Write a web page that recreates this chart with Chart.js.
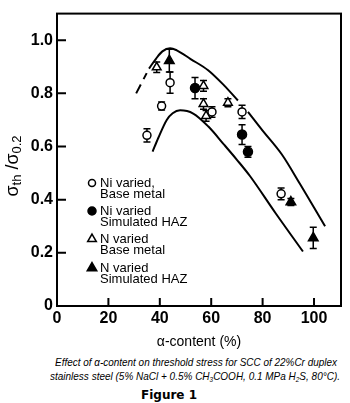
<!DOCTYPE html>
<html><head><meta charset="utf-8">
<script src="https://cdn.jsdelivr.net/npm/chart.js@4.4.0/dist/chart.umd.min.js"></script>
<style>
html,body{margin:0;padding:0;background:#fff;width:350px;height:403px;overflow:hidden}
#wrap{position:absolute;left:0;top:0;width:350px;height:355px}
.cap{position:absolute;font-family:"Liberation Sans",Arial,sans-serif;font-style:italic;font-size:11px;line-height:13px;color:#000;white-space:nowrap;transform-origin:0 0}
.cap sub{font-size:7px;vertical-align:-2px;line-height:0}
.fig{position:absolute;left:0;width:338px;text-align:center;font-family:"DejaVu Sans",sans-serif;font-weight:bold;font-size:12px;line-height:14px;color:#000}
</style>
</head><body>
<div id="wrap"><canvas id="c" width="350" height="355"></canvas></div>
<div class="cap" id="cap1" data-l="55" data-w="282" style="top:356px">Effect of α-content on threshold stress for SCC of 22%Cr duplex</div>
<div class="cap" id="cap2" data-l="50" data-w="290" style="top:370px">stainless steel (5% NaCl + 0.5% CH<sub>3</sub>COOH, 0.1 MPa H<sub>2</sub>S, 80°C).</div>
<div class="fig" style="top:388px">Figure 1</div>
<script>
// ---- tick labels ----
const xTicks = [0, 20, 40, 60, 80, 100];
const yTicks = [0, 0.2, 0.4, 0.6, 0.8, 1.0];

// ---- series: Ni varied, Base metal (open circles) ----
const niBaseX   = [35, 40.7, 44, 60.3, 72, 87.2];
const niBaseY   = [0.642, 0.752, 0.84, 0.73, 0.73, 0.422];
const niBaseErr = [0.025, 0.015, 0.04, 0.02, 0.025, 0.022];

// ---- Ni varied, Simulated HAZ (filled circles) ----
const niHazX   = [53.7, 72, 74.3];
const niHazY   = [0.82, 0.645, 0.58];
const niHazErr = [0.04, 0.037, 0.02];

// ---- N varied, Base metal (open triangles) ----
const nBaseX   = [38.8, 57, 57, 58, 66.5];
const nBaseY   = [0.898, 0.828, 0.76, 0.715, 0.765];
const nBaseErr = [0.02, 0.02, 0.02, 0.02, 0.015];

// ---- N varied, Simulated HAZ (filled triangles) ----
const nHazX   = [43.7, 91, 99.7];
const nHazY   = [0.923, 0.391, 0.256];
const nHazErr = [0.043, 0.013, 0.04];

// ---- band curves ----
const upperDashX = [30.8, 34.9];
const upperDashY = [0.80, 0.876];
const upperAX = [35.8, 38.5, 41, 44, 46.6, 52, 58.8, 65, 70.4];
const upperAY = [0.893, 0.93, 0.958, 0.97, 0.962, 0.929, 0.887, 0.83, 0.773];
const upperBX = [74.3, 80, 87.5, 94.5, 104.3];
const upperBY = [0.73, 0.66, 0.57, 0.46, 0.30];
const lowerX = [37.2, 39.4, 42.7, 45, 47.9, 53, 58.9, 65, 70, 75, 85, 95.7];
const lowerY = [0.581, 0.632, 0.70, 0.725, 0.736, 0.724, 0.675, 0.607, 0.55, 0.49, 0.35, 0.205];

// fit caption lines to their widths
document.querySelectorAll('.cap').forEach(el => {
  const w = el.getBoundingClientRect().width;
  el.style.left = el.dataset.l + 'px';
  el.style.transform = 'scaleX(' + (parseFloat(el.dataset.w) / w) + ')';
});

const pts = (xs, ys) => xs.map((x, i) => ({x: x, y: ys[i]}));

function pointSet(xs, ys, errs, style, filled, r) {
  return {
    data: pts(xs, ys), errY: errs, showLine: false,
    pointStyle: style, pointRadius: r, pointHoverRadius: r,
    pointBackgroundColor: filled ? '#000' : '#fff',
    pointBorderColor: '#000', pointBorderWidth: 1.5
  };
}
function curveSet(xs, ys, dash) {
  return {
    data: pts(xs, ys), showLine: true, pointRadius: 0, pointHoverRadius: 0,
    borderColor: '#000', borderWidth: 2, borderDash: dash || [],
    cubicInterpolationMode: 'monotone', fill: false, borderCapStyle: 'butt'
  };
}

const FONT = '"Liberation Sans", Arial, sans-serif';

const errorBars = {
  id: 'errorBars',
  beforeDatasetsDraw(chart) {
    const ctx = chart.ctx, xs = chart.scales.x, ys = chart.scales.y;
    ctx.save();
    ctx.strokeStyle = '#000'; ctx.lineWidth = 1.5;
    chart.data.datasets.forEach(ds => {
      if (!ds.errY) return;
      ds.data.forEach((p, i) => {
        const e = ds.errY[i];
        const px = xs.getPixelForValue(p.x);
        const y1 = ys.getPixelForValue(p.y + e), y2 = ys.getPixelForValue(p.y - e);
        ctx.beginPath();
        ctx.moveTo(px, y1); ctx.lineTo(px, y2);
        ctx.moveTo(px - 3.5, y1); ctx.lineTo(px + 3.5, y1);
        ctx.moveTo(px - 3.5, y2); ctx.lineTo(px + 3.5, y2);
        ctx.stroke();
      });
    });
    ctx.restore();
  }
};

const frame = {
  id: 'frame',
  afterDraw(chart) {
    const ctx = chart.ctx, a = chart.chartArea, xs = chart.scales.x, ys = chart.scales.y;
    ctx.save();
    ctx.strokeStyle = '#000'; ctx.lineWidth = 2;
    ctx.strokeRect(a.left, a.top, a.right - a.left, a.bottom - a.top);
    ctx.beginPath();
    xTicks.forEach(v => { if (v === 0) return; const p = xs.getPixelForValue(v); ctx.moveTo(p, a.bottom); ctx.lineTo(p, a.bottom - 8); });
    yTicks.forEach(v => { if (v === 0) return; const p = ys.getPixelForValue(v); ctx.moveTo(a.left, p); ctx.lineTo(a.left + 9, p); });
    ctx.stroke();

    // legend
    const entries = [
      {style: 'circle', fill: '#fff', r: 3.5, lines: ['Ni varied,', 'Base metal'], y: 183},
      {style: 'circle', fill: '#000', r: 4, lines: ['Ni varied', 'Simulated HAZ'], y: 211},
      {style: 'triangle', fill: '#fff', r: 5, lines: ['N varied', 'Base metal'], y: 239},
      {style: 'triangle', fill: '#000', r: 5.5, lines: ['N varied', 'Simulated HAZ'], y: 268}
    ];
    ctx.font = '13px ' + FONT;
    ctx.textBaseline = 'middle'; ctx.textAlign = 'left';
    entries.forEach(en => {
      ctx.fillStyle = en.fill; ctx.strokeStyle = '#000'; ctx.lineWidth = 1.5;
      Chart.helpers.drawPoint(ctx, {pointStyle: en.style, radius: en.r, borderWidth: 1.5, rotation: 0}, 92, en.y);
      ctx.fillStyle = '#000';
      en.lines.forEach((t, k) => ctx.fillText(t, 100, en.y + k * 11.5));
    });

    // y-axis title  σth /σ0.2
    const parts = [
      {t: 'σ', s: 18, dy: 0}, {t: 'th', s: 13, dy: 3}, {t: ' /', s: 18, dy: 0},
      {t: 'σ', s: 18, dy: 0}, {t: '0.2', s: 13, dy: 3}
    ];
    let total = 0;
    parts.forEach(p => { ctx.font = p.s + 'px ' + FONT; p.w = ctx.measureText(p.t).width; total += p.w; });
    ctx.translate(17.5, 166);
    ctx.rotate(-Math.PI / 2);
    ctx.textBaseline = 'alphabetic';
    let u = -total / 2;
    parts.forEach(p => { ctx.font = p.s + 'px ' + FONT; ctx.fillText(p.t, u, p.dy); u += p.w; });
    ctx.restore();
  }
};

new Chart(document.getElementById('c'), {
  type: 'scatter',
  data: {
    datasets: [
      pointSet(nHazX, nHazY, nHazErr, 'triangle', true, 5.5),
      pointSet(nBaseX, nBaseY, nBaseErr, 'triangle', false, 5),
      pointSet(niHazX, niHazY, niHazErr, 'circle', true, 4.5),
      pointSet(niBaseX, niBaseY, niBaseErr, 'circle', false, 4),
      curveSet(upperDashX, upperDashY, [10, 6]),
      curveSet(upperAX, upperAY),
      curveSet(upperBX, upperBY),
      curveSet(lowerX, lowerY)
    ]
  },
  options: {
    responsive: false, animation: false, devicePixelRatio: 1,
    layout: {padding: {left: 0, top: 6, right: 9, bottom: 0}},
    plugins: {legend: {display: false}, tooltip: {enabled: false}},
    scales: {
      x: {
        type: 'linear', min: 0, max: 110.5,
        afterBuildTicks: s => { s.ticks = xTicks.map(v => ({value: v})); },
        afterFit: s => { s.height = 49; },
        grid: {display: false, drawTicks: false}, border: {display: false},
        ticks: {padding: 3, color: '#000', font: {family: FONT, size: 16, weight: 'bold'}, callback: v => String(v)},
        title: {display: true, text: 'α-content (%)', color: '#000', font: {family: FONT, size: 14}, padding: {top: 0, bottom: 4}}
      },
      y: {
        type: 'linear', min: 0, max: 1.1,
        afterBuildTicks: s => { s.ticks = yTicks.map(v => ({value: v})); },
        afterFit: s => { s.width = 57; },
        grid: {display: false, drawTicks: false}, border: {display: false},
        ticks: {padding: 4, color: '#000', font: {family: FONT, size: 16, weight: 'bold'}, callback: v => v === 0 ? '0' : v.toFixed(1)}
      }
    }
  },
  plugins: [errorBars, frame]
});
</script>
</body></html>
